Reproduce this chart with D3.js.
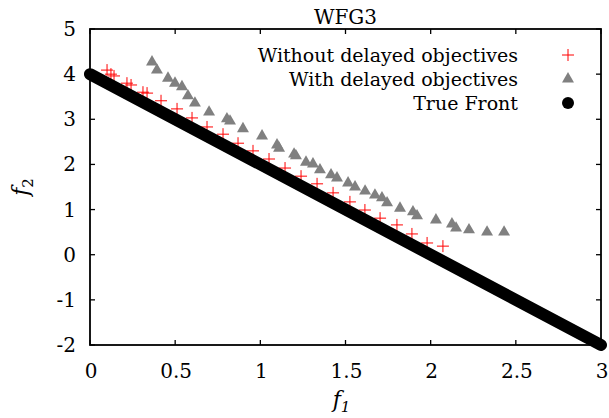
<!DOCTYPE html>
<html>
<head>
<meta charset="utf-8">
<script src="https://cdn.jsdelivr.net/npm/d3@7"></script>
<style>
  body { margin: 0; background: #fff; }
</style>
</head>
<body>
<svg id="chart" width="609" height="418" font-family="'DejaVu Serif', serif"></svg>
<script>
  // ------------------------------------------------------------
  // data
  // ------------------------------------------------------------
  const withoutF1 = [0.100, 0.123, 0.141, 0.217, 0.241, 0.311, 0.335, 0.417, 0.511, 0.599,
                     0.687, 0.781, 0.869, 0.957, 1.051, 1.145, 1.239, 1.333, 1.427, 1.526,
                     1.614, 1.703, 1.802, 1.890, 1.979, 2.072];
  const withoutF2 = [4.09, 4.00, 3.96, 3.80, 3.76, 3.60, 3.58, 3.41, 3.23, 3.03,
                     2.83, 2.67, 2.47, 2.30, 2.12, 1.92, 1.74, 1.57, 1.37, 1.17,
                     0.99, 0.81, 0.66, 0.46, 0.26, 0.19];

  const withF1 = [0.364, 0.393, 0.458, 0.499, 0.540, 0.575, 0.616, 0.699, 0.804, 0.822,
                  0.898, 1.010, 1.098, 1.110, 1.198, 1.209, 1.268, 1.309, 1.350, 1.415,
                  1.450, 1.515, 1.556, 1.615, 1.673, 1.714, 1.744, 1.820, 1.896, 1.920,
                  2.031, 2.125, 2.149, 2.225, 2.331, 2.431];
  const withF2 = [4.27, 4.09, 3.91, 3.80, 3.72, 3.52, 3.36, 3.16, 3.01, 2.96,
                  2.79, 2.63, 2.43, 2.36, 2.23, 2.19, 2.05, 2.01, 1.88, 1.77,
                  1.70, 1.59, 1.50, 1.41, 1.32, 1.26, 1.15, 1.03, 0.95, 0.86,
                  0.77, 0.68, 0.59, 0.55, 0.50, 0.50];

  // true front end points (linear front)
  const frontF1 = [0, 3];
  const frontF2 = [4, -2];

  const xTicks = [0, 0.5, 1, 1.5, 2, 2.5, 3];
  const yTicks = [-2, -1, 0, 1, 2, 3, 4, 5];
  const seriesNames = ["Without delayed objectives", "With delayed objectives", "True Front"];

  // ------------------------------------------------------------
  const svg = d3.select("#chart");
  const svgW = +svg.attr("width"), svgH = +svg.attr("height");
  const margin = { top: 29, right: 8, bottom: 73, left: 90 };
  const w = svgW - margin.left - margin.right;
  const h = svgH - margin.top - margin.bottom;
  const g = svg.append("g").attr("transform", `translate(${margin.left},${margin.top})`);

  const x = d3.scaleLinear().domain([0, 3]).range([0, w]);
  const y = d3.scaleLinear().domain([-2, 5]).range([h, 0]);

  const fs = 20;

  // ticks (inside, mirrored)
  const tk = 5;
  const tg = g.append("g").attr("stroke", "#000").attr("stroke-width", 1.3);
  xTicks.forEach(t => {
    tg.append("line").attr("x1", x(t)).attr("x2", x(t)).attr("y1", h).attr("y2", h - tk);
    tg.append("line").attr("x1", x(t)).attr("x2", x(t)).attr("y1", 0).attr("y2", tk);
  });
  yTicks.forEach(t => {
    tg.append("line").attr("x1", 0).attr("x2", tk).attr("y1", y(t)).attr("y2", y(t));
    tg.append("line").attr("x1", w).attr("x2", w - tk).attr("y1", y(t)).attr("y2", y(t));
  });

  // tick labels
  g.selectAll(".xl").data(xTicks).enter().append("text")
    .attr("x", d => x(d) + 1).attr("y", h + 33)
    .attr("text-anchor", "middle").attr("font-size", fs).text(d => d);
  g.selectAll(".yl").data(yTicks).enter().append("text")
    .attr("x", -14).attr("y", d => y(d) + 7)
    .attr("text-anchor", "end").attr("font-size", fs).text(d => d);

  // series 1: red plus
  const plus = 6;
  const pg = g.append("g").attr("stroke", "#ff0000").attr("stroke-width", 1);
  withoutF1.forEach((f1, i) => {
    const px = x(f1), py = y(withoutF2[i]);
    pg.append("line").attr("x1", px - plus).attr("x2", px + plus).attr("y1", py).attr("y2", py);
    pg.append("line").attr("x1", px).attr("x2", px).attr("y1", py - plus).attr("y2", py + plus);
  });

  // series 2: grey triangles
  const tri = d3.symbol().type(d3.symbolTriangle).size(62);
  g.selectAll(".tri").data(withF1).enter().append("path")
    .attr("d", tri)
    .attr("transform", (d, i) => `translate(${x(d)},${y(withF2[i])})`)
    .attr("fill", "#808080");

  // series 3: true front (dense black dots -> thick round line)
  const front = frontF1.map((d, i) => [d, frontF2[i]]);
  g.append("path")
    .datum(front)
    .attr("d", d3.line().x(d => x(d[0])).y(d => y(d[1])))
    .attr("fill", "none").attr("stroke", "#000")
    .attr("stroke-width", 12).attr("stroke-linecap", "round");

  // frame
  g.append("rect").attr("width", w).attr("height", h)
    .attr("fill", "none").attr("stroke", "#000").attr("stroke-width", 1.8);

  // title
  g.append("text").attr("x", w / 2).attr("y", -5)
    .attr("text-anchor", "middle").attr("font-size", fs).text("WFG3");

  // axis labels
  const xl = g.append("text").attr("x", w / 2 - 4).attr("y", h + 62)
    .attr("text-anchor", "middle").attr("font-size", 22).attr("font-style", "italic");
  xl.append("tspan").text("f");
  xl.append("tspan").attr("font-size", 15).attr("dy", 5).text("1");

  const yl = g.append("text").attr("transform", `translate(${-62},${h / 2}) rotate(-90)`)
    .attr("text-anchor", "middle").attr("font-size", 22).attr("font-style", "italic");
  yl.append("tspan").text("f");
  yl.append("tspan").attr("font-size", 15).attr("dy", 5).attr("font-style", "normal").text("2");

  // legend
  const lx = 518 - margin.left, sx = 568 - margin.left;
  const rows = [55, 79, 103].map(v => v - margin.top);
  seriesNames.forEach((name, i) => {
    g.append("text").attr("x", lx).attr("y", rows[i] + 7)
      .attr("text-anchor", "end").attr("font-size", 19).text(name);
  });
  g.append("line").attr("x1", sx - plus).attr("x2", sx + plus).attr("y1", rows[0]).attr("y2", rows[0])
    .attr("stroke", "#ff0000");
  g.append("line").attr("x1", sx).attr("x2", sx).attr("y1", rows[0] - plus).attr("y2", rows[0] + plus)
    .attr("stroke", "#ff0000");
  g.append("path").attr("d", tri).attr("transform", `translate(${sx},${rows[1]})`).attr("fill", "#808080");
  g.append("circle").attr("cx", sx).attr("cy", rows[2]).attr("r", 6).attr("fill", "#000");
</script>
</body>
</html>
